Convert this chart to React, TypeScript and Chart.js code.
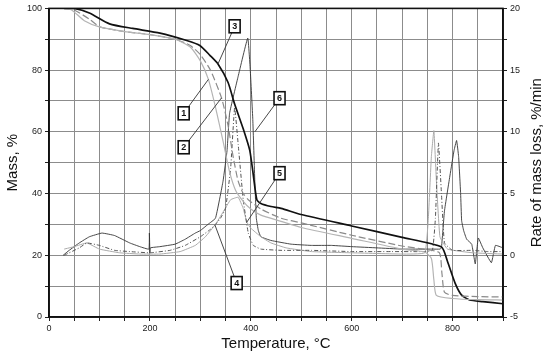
import React, { useEffect, useRef } from 'react';
import { Chart, registerables } from 'chart.js';

Chart.register(...registerables);

// ---- TG curves (Mass, %) ----
const tg1T = [30, 45, 70, 100, 150, 200, 250, 280, 300, 316, 330, 345, 358, 370, 385, 400, 420, 460, 500, 600, 700, 745, 758, 763, 768, 800, 850, 900];
const tg1M = [100, 99.5, 96, 94, 92.5, 91.5, 90, 87.5, 83, 77, 68, 57, 47, 41, 37.5, 35, 33, 31, 29, 25.5, 22, 21, 19, 12, 7, 6, 5.6, 5.5];

const tg2T = [30, 50, 80, 101, 150, 200, 250, 280, 300, 320, 342, 355, 365, 375, 385, 395, 420, 460, 500, 600, 700, 750, 774, 779, 784, 800, 850, 900];
const tg2M = [100, 99.5, 96.5, 94, 92.5, 91.5, 90, 88, 85, 80, 71, 62, 52, 44, 40, 38, 35, 32, 30.5, 26.5, 23, 21.8, 20.8, 14, 8, 7, 6.6, 6.5];

const tg3T = [30, 50, 80, 120, 166, 220, 273, 299, 319, 335, 355, 368, 385, 398, 405, 412, 420, 440, 460, 500, 600, 700, 778, 790, 805, 818, 834, 860, 900];
const tg3M = [100, 100, 98.5, 95, 93.5, 92, 89.6, 88, 84.8, 82, 76, 69, 61, 54, 46, 38, 36.8, 35.8, 35.2, 33.2, 29.5, 25.8, 22.7, 18, 11, 7.1, 5.5, 5, 4.3];

// ---- DTG curves (Rate of mass loss, %/min) ----
const dtg4T = [30, 60, 75, 100, 130, 160, 200, 240, 270, 300, 320, 329, 340, 350, 360, 368, 375, 385, 395, 405, 420, 460, 520, 600, 680, 740, 760, 766, 772, 778, 784, 800, 840, 870, 900];
const dtg4R = [0, 0.6, 1.0, 0.8, 0.4, 0.3, 0.2, 0.4, 0.8, 1.5, 2.1, 2.45, 3.0, 3.8, 7, 12, 9, 4.5, 1.8, 0.8, 0.5, 0.4, 0.4, 0.3, 0.3, 0.3, 0.4, 3, 9.1, 5, 1, 0.4, 0.4, 0.3, 0.3];

const dtg5T = [30, 50, 75, 100, 140, 180, 220, 260, 290, 310, 330, 345, 360, 375, 385, 392, 400, 420, 440, 470, 520, 600, 700, 745, 752, 758, 763, 768, 775, 790, 840, 900];
const dtg5R = [0.5, 0.7, 1.0, 0.5, 0.2, 0.1, 0.1, 0.3, 0.8, 1.5, 2.5, 3.5, 4.5, 4.7, 3.8, 2.7, 2.2, 1.5, 1.0, 0.6, 0.3, 0.2, 0.1, 0.2, 3, 8, 10.1, 6, 1.5, 0.5, 0.2, 0.1];

const dtg6T = [28, 40, 60, 80, 105, 130, 160, 180, 198, 199, 200, 201, 220, 250, 270, 290, 300, 315, 330, 345, 353, 358, 375, 394, 399, 404, 408, 411, 415, 420, 440, 480, 520, 560, 600, 650, 700, 740, 760, 775, 778, 784, 795, 803, 808, 812, 816, 818, 822, 828, 838, 845, 851, 860, 877, 885, 900];
const dtg6R = [0, 0.4, 1.0, 1.5, 1.8, 1.6, 1.0, 0.7, 0.5, 1.8, 0.2, 0.6, 0.7, 0.9, 1.3, 1.8, 2.0, 2.5, 3.0, 6.0, 8.5, 11.5, 14.5, 17.6, 15, 11, 6, 3, 2, 1.5, 1.2, 0.9, 0.8, 0.8, 0.7, 0.6, 0.5, 0.5, 0.5, 0.5, 0.6, 3.6, 6.5, 8.5, 9.3, 8, 5, 2.8, 2, 1.3, 0.9, -0.7, 1.4, 0.6, -0.6, 0.8, 0.6];

// ---- callout labels ----
const calloutText = ['1', '2', '3', '4', '5', '6'];
const calloutBoxT = [267, 267, 368, 372, 457, 457];
const calloutBoxM = [66, 55, 94.2, 11, 46.6, 70.9];
const calloutTipT = [316, 342, 335, 329, 392, 408];
const calloutTipM = [77, 71, 82, 29.8, 30.7, 60];

const rightTitle = 'Rate of mass loss, %/min';

const pts = (xs: number[], ys: number[]) => xs.map((x, i) => ({ x, y: ys[i] }));

const FONT = '"Liberation Sans", Arial, sans-serif';

const framePlugin = {
  id: 'frameAndCallouts',
  afterDatasetsDraw(chart: any) {
    const { ctx, chartArea, scales } = chart;
    const x = scales.x;
    const y = scales.y;
    ctx.save();
    for (let i = 0; i < calloutText.length; i++) {
      const bx = x.getPixelForValue(calloutBoxT[i]);
      const by = y.getPixelForValue(calloutBoxM[i]);
      const tx = x.getPixelForValue(calloutTipT[i]);
      const ty = y.getPixelForValue(calloutTipM[i]);
      ctx.strokeStyle = '#333';
      ctx.lineWidth = 0.9;
      ctx.beginPath();
      ctx.moveTo(bx, by);
      ctx.lineTo(tx, ty);
      ctx.stroke();
      const w = 11, h = 13;
      ctx.fillStyle = '#fff';
      ctx.fillRect(bx - w / 2, by - h / 2, w, h);
      ctx.strokeStyle = '#111';
      ctx.lineWidth = 1.6;
      ctx.strokeRect(bx - w / 2, by - h / 2, w, h);
      ctx.fillStyle = '#111';
      ctx.font = 'bold 9px ' + FONT;
      ctx.textAlign = 'center';
      ctx.textBaseline = 'middle';
      ctx.fillText(calloutText[i], bx, by + 0.5);
    }
    ctx.strokeStyle = '#111';
    ctx.lineWidth = 1.6;
    ctx.strokeRect(chartArea.left, chartArea.top, chartArea.right - chartArea.left, chartArea.bottom - chartArea.top);
    // right axis title, reading bottom-to-top
    ctx.translate(chart.width - 13, (chartArea.top + chartArea.bottom) / 2);
    ctx.rotate(-Math.PI / 2);
    ctx.fillStyle = '#111';
    ctx.font = '15px ' + FONT;
    ctx.textAlign = 'center';
    ctx.textBaseline = 'middle';
    ctx.fillText(rightTitle, 0, 0);
    ctx.restore();
  },
};

export default function App() {
  const ref = useRef<HTMLCanvasElement>(null);
  useEffect(() => {
    if (!ref.current) return;
    const font = { family: FONT };
    const chart = new Chart(ref.current, {
      type: 'line',
      data: {
        datasets: [
          { data: pts(tg1T, tg1M), yAxisID: 'y', borderColor: '#b4b4b4', borderWidth: 1.2, pointRadius: 0, tension: 0.2 },
          { data: pts(tg2T, tg2M), yAxisID: 'y', borderColor: '#8a8a8a', borderWidth: 1.2, borderDash: [7, 3], pointRadius: 0, tension: 0.2 },
          { data: pts(tg3T, tg3M), yAxisID: 'y', borderColor: '#111', borderWidth: 1.7, pointRadius: 0, tension: 0.2 },
          { data: pts(dtg4T, dtg4R), yAxisID: 'yR', borderColor: '#555', borderWidth: 1, borderDash: [4, 2, 1, 2], pointRadius: 0, tension: 0.1 },
          { data: pts(dtg5T, dtg5R), yAxisID: 'yR', borderColor: '#aaa', borderWidth: 1, pointRadius: 0, tension: 0.1 },
          { data: pts(dtg6T, dtg6R), yAxisID: 'yR', borderColor: '#333', borderWidth: 0.9, pointRadius: 0, tension: 0.1 },
        ],
      },
      options: {
        animation: false,
        responsive: false,
        maintainAspectRatio: false,
        layout: { padding: { top: 8, left: 0, right: 0, bottom: 0 } },
        plugins: { legend: { display: false }, tooltip: { enabled: false } },
        scales: {
          x: {
            type: 'linear',
            min: 0,
            max: 900,
            afterFit: (s: any) => { s.height = 40; },
            ticks: {
              stepSize: 50,
              autoSkip: false,
              maxRotation: 0,
              padding: 2,
              color: '#222',
              font: { ...font, size: 9 },
              callback: (v: any) => (v % 200 === 0 && v <= 800 ? String(v) : ''),
            },
            grid: { color: '#8c8c8c', lineWidth: 1, tickLength: 4, tickColor: '#222' },
            border: { color: '#111', width: 1.6 },
            title: { display: true, text: 'Temperature, °C', color: '#111', font: { ...font, size: 15 }, padding: { top: 0, bottom: 4 } },
          },
          y: {
            position: 'left',
            min: 0,
            max: 100,
            afterFit: (s: any) => { s.width = 49; },
            ticks: {
              stepSize: 10,
              autoSkip: false,
              padding: 3,
              color: '#222',
              font: { ...font, size: 9 },
              callback: (v: any) => (v % 20 === 0 ? String(v) : ''),
            },
            grid: { color: '#8c8c8c', lineWidth: 1, tickLength: 4, tickColor: '#222' },
            border: { color: '#111', width: 1.6 },
            title: { display: true, text: 'Mass, %', color: '#111', font: { ...font, size: 15 }, padding: { top: 4, bottom: 0 } },
          },
          yR: {
            position: 'right',
            min: -5,
            max: 20,
            afterFit: (s: any) => { s.width = 47; },
            ticks: {
              stepSize: 2.5,
              autoSkip: false,
              padding: 3,
              color: '#222',
              font: { ...font, size: 9 },
              callback: (v: any) => (v % 5 === 0 ? String(v) : ''),
            },
            grid: { drawOnChartArea: false, tickLength: 4, tickColor: '#222' },
            border: { color: '#111', width: 1.6 },
            title: { display: false },
          },
        },
      },
      plugins: [framePlugin],
    } as any);
    return () => chart.destroy();
  }, []);
  return (
    <div style={{ position: 'fixed', left: 0, top: 0, width: 550, height: 357, background: '#fff' }}>
      <canvas ref={ref} width={550} height={357} style={{ width: 550, height: 357 }} />
    </div>
  );
}
